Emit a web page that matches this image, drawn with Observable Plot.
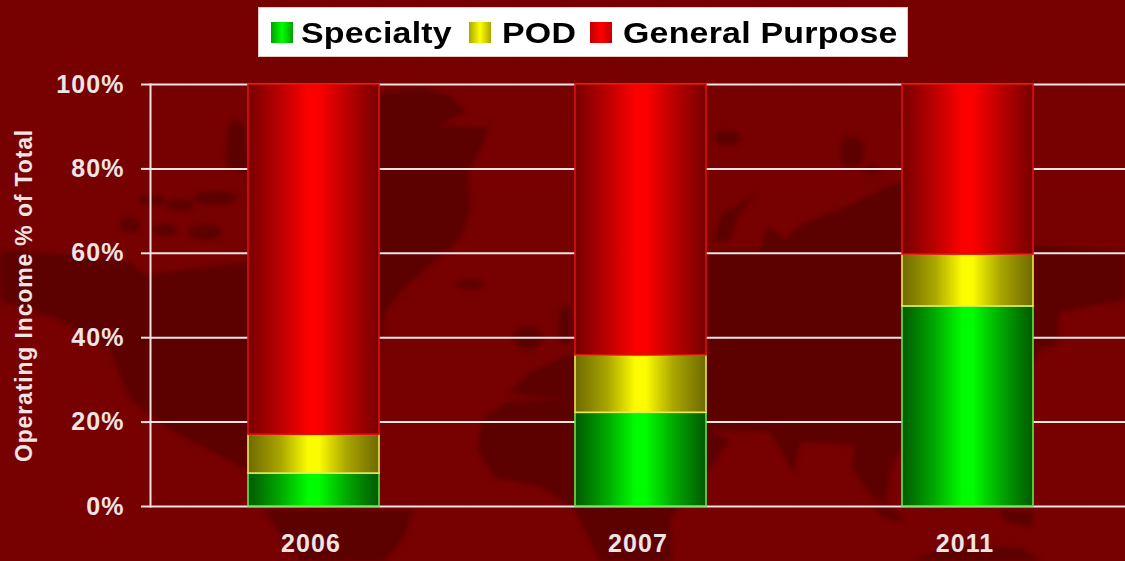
<!DOCTYPE html>
<html>
<head>
<meta charset="utf-8">
<script src="https://cdn.jsdelivr.net/npm/d3@7"></script>
<script src="https://cdn.jsdelivr.net/npm/@observablehq/plot@0.6"></script>
<style>
  html, body { margin: 0; padding: 0; background: #770000; }
  #stage { position: relative; width: 1125px; height: 561px; overflow: hidden; background: #770000; }
  #backdrop, #chart { position: absolute; left: 0; top: 0; }
  #chart svg { display: block; background: transparent; }
  #chart svg g[aria-label="text"] { letter-spacing: 0.85px; }
  #legend {
    position: absolute; left: 258px; top: 7px; width: 650px; height: 50px; box-sizing: border-box;
    background: #fff; border: 1px solid #e8c8c8; color: #000;
    font: bold 30px "Liberation Sans", Arial, sans-serif; letter-spacing: 0.2px;
  }
  #legend i { position: absolute; top: 14px; width: 22px; height: 21px; }
  #legend span { position: absolute; top: 8px; line-height: 34px; white-space: nowrap; transform: scaleX(1.13); transform-origin: left center; }
</style>
</head>
<body>
<div id="stage">
  <!-- World map watermark behind the chart, plus the paint servers used by the bars -->
  <svg id="backdrop" width="1125" height="561" viewBox="0 0 1125 561">
    <defs>
      <linearGradient id="grad-green"><stop offset="0" stop-color="#005a00"/><stop offset="0.25" stop-color="#00aa00"/><stop offset="0.46" stop-color="#00fc00"/><stop offset="0.54" stop-color="#00fc00"/><stop offset="0.75" stop-color="#00aa00"/><stop offset="1" stop-color="#005a00"/></linearGradient>
      <linearGradient id="grad-yellow"><stop offset="0" stop-color="#6e6a00"/><stop offset="0.25" stop-color="#aaa600"/><stop offset="0.46" stop-color="#fcfc00"/><stop offset="0.54" stop-color="#fcfc00"/><stop offset="0.75" stop-color="#aaa600"/><stop offset="1" stop-color="#6e6a00"/></linearGradient>
      <linearGradient id="grad-red"><stop offset="0" stop-color="#780000"/><stop offset="0.25" stop-color="#bc0000"/><stop offset="0.46" stop-color="#fc0000"/><stop offset="0.54" stop-color="#fc0000"/><stop offset="0.75" stop-color="#bc0000"/><stop offset="1" stop-color="#780000"/></linearGradient>
      <pattern id="meridians" width="47" height="60" patternUnits="userSpaceOnUse">
        <path d="M0 0V60M0 0H47" stroke="#640000" stroke-opacity="0.3" fill="none"/>
      </pattern>
      <filter id="soft"><feGaussianBlur stdDeviation="2.6"/></filter>
    </defs>
    <rect width="1125" height="561" fill="#770000"/>
    <rect width="1125" height="561" fill="url(#meridians)"/>
    <g fill="#5c0000" filter="url(#soft)">
      <!-- Americas -->
      <path d="M0 250L60 254L130 262L145 275L248 262L381 93L420 88L450 95L466 112L440 125L490 128L480 150L468 172L470 210L460 240L430 265L402 290L385 312L380 340L345 380L248 470L170 430L130 400L110 350L60 320L0 300Z"/>
      <path d="M263 510L413 510L405 535L385 561L300 561Z"/>
      <path d="M230 120L245 125L248 175L225 165Z"/>
      <ellipse cx="215" cy="198" rx="22" ry="7"/><ellipse cx="180" cy="205" rx="14" ry="6"/><ellipse cx="152" cy="200" rx="14" ry="5"/>
      <ellipse cx="205" cy="232" rx="16" ry="8"/><ellipse cx="165" cy="230" rx="12" ry="6"/><ellipse cx="130" cy="225" rx="10" ry="8"/>
      <ellipse cx="470" cy="284" rx="15" ry="5"/>
      <!-- Europe and Africa -->
      <ellipse cx="528" cy="338" rx="14" ry="12"/><ellipse cx="565" cy="325" rx="7" ry="20"/>
      <path d="M530 372L575 352L575 398L530 396L508 392Z"/>
      <path d="M506 402L575 398L706 430L730 440L712 465L670 520L672 561L600 561L575 510L540 486L495 478L477 450L482 420Z"/>
      <!-- Asia -->
      <path d="M575 253L760 250L768 225L785 240L800 225L850 205L880 190L905 180L1033 245L1125 252L1125 300L1090 306L1060 312L1056 345L1040 350L1000 420L905 440L890 470L885 505L870 495L852 468L855 445L828 443L800 442L794 473L770 432L706 430L575 400Z"/>
      <path d="M712 243L722 214L757 193L740 212L730 240Z"/>
      <ellipse cx="852" cy="152" rx="12" ry="16"/><ellipse cx="872" cy="170" rx="9" ry="4"/>
      <ellipse cx="727" cy="138" rx="14" ry="7"/>
      <!-- Australasia -->
      <path d="M1000 510L1033 512L1032 527L1005 522Z"/>
      <path d="M911 561L950 545L1020 548L1043 561Z"/>
      <path d="M870 505L895 510L905 522L885 518Z"/>
    </g>
  </svg>
  <div id="chart"></div>
  <div id="legend"></div>
</div>
<script>
// Share of operating income by segment, stacked to 100% per year
const years = ["2006", "2007", "2011"];
const series = ["Specialty", "POD", "General Purpose"];
const specialty = [7.8, 22.2, 47.4];
const pod = [9.2, 13.6, 12.3];
const generalPurpose = [83.0, 64.2, 40.3];
const yTicks = [0, 20, 40, 60, 80, 100];

const segments = [specialty, pod, generalPurpose];
const paints = ["url(#grad-green)", "url(#grad-yellow)", "url(#grad-red)"];
const outlines = ["#66e84a", "#ecea58", "#e01010"];
const swatchCss = [
  "linear-gradient(90deg,#00a000,#00ff00,#00a000)",
  "linear-gradient(90deg,#a8a800,#ffff00,#a8a800)",
  "linear-gradient(90deg,#c00000,#ff0000,#c00000)"
];

const rows = series.flatMap((name, s) =>
  years.map((year, i) => ({year, name, share: segments[s][i], outline: outlines[s]}))
);

const font = '"Liberation Sans", Arial, sans-serif';

const chart = Plot.plot({
  width: 1125,
  height: 561,
  marginLeft: 150,
  marginRight: 0,
  marginTop: 84,
  marginBottom: 55,
  style: {background: "transparent", color: "#f0e4e4", fontFamily: font, letterSpacing: "1.1px"},
  x: {domain: years, range: [150, 1131], paddingInner: 0.6, paddingOuter: 0.3, align: 0.5, label: null},
  y: {domain: [0, 100], label: null},
  color: {domain: series, range: paints},
  marks: [
    Plot.ruleY(yTicks, {stroke: "currentColor", strokeWidth: 2}),
    Plot.frame({anchor: "left", stroke: "currentColor", strokeWidth: 2}),
    Plot.axisY({
      ticks: yTicks, tickSize: 9, tickPadding: 17, tickFormat: (d) => `${d}%`,
      fontSize: 25, fontWeight: "bold", strokeWidth: 2, label: null
    }),
    Plot.axisX({tickSize: 0, tickPadding: 28, dx: -3, fontSize: 25, fontWeight: "bold", label: null}),
    Plot.barY(rows, {
      x: "year", y: "share", z: "name", fill: "name",
      stroke: {value: "outline", scale: null}, strokeWidth: 1.6
    }),
    Plot.text(["Operating Income % of Total"], {
      frameAnchor: "left", textAnchor: "middle", dx: -126, rotate: -90,
      fontSize: 23, fontWeight: "bold", fill: "currentColor"
    })
  ]
});
document.getElementById("chart").append(chart);

// Legend box sitting over the top of the chart
const legend = document.getElementById("legend");
const swatchLeft = [12, 210, 331];
const labelLeft = [42, 243, 364];
series.forEach((name, s) => {
  const swatch = document.createElement("i");
  swatch.style.left = swatchLeft[s] + "px";
  swatch.style.background = swatchCss[s];
  const label = document.createElement("span");
  label.style.left = labelLeft[s] + "px";
  label.textContent = name;
  legend.append(swatch, label);
});
</script>
</body>
</html>
